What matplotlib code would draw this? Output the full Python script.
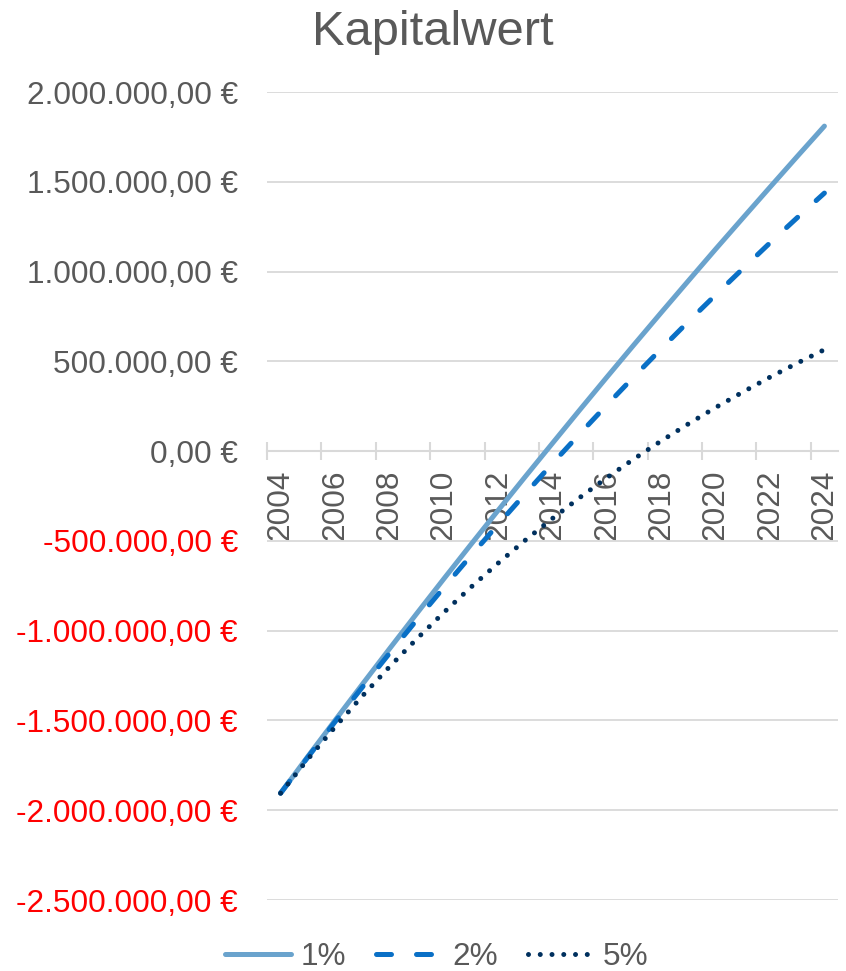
import matplotlib
matplotlib.use("Agg")
import matplotlib.pyplot as plt
from matplotlib.ticker import FixedLocator, FixedFormatter

plt.rcParams['font.family'] = ['Liberation Sans', 'DejaVu Sans']

# ---- data ----
years = list(range(2004, 2025))
npv_1 = [-1905000, -1701000, -1500000, -1300000, -1102000, -906000, -712000,
         -520000, -330000, -142000, 44000, 229000, 412000, 593000, 772000,
         949000, 1125000, 1298000, 1470000, 1641000, 1810000]
npv_2 = [-1905000, -1705000, -1508000, -1316000, -1127000, -942000, -760000,
         -582000, -408000, -237000, -69000, 96000, 257000, 415000, 570000,
         722000, 870000, 1016000, 1160000, 1300000, 1437000]
npv_5 = [-1905000, -1716000, -1537000, -1365000, -1202000, -1047000, -899000,
         -758000, -624000, -496000, -375000, -259000, -148000, -43000, 57000,
         152000, 243000, 329000, 412000, 490000, 565000]
series_names = ['1%', '2%', '5%']
y_ticks = [-2500000, -2000000, -1500000, -1000000, -500000, 0,
           500000, 1000000, 1500000, 2000000]
y_tick_labels = ['-2.500.000,00 €', '-2.000.000,00 €', '-1.500.000,00 €',
                 '-1.000.000,00 €', '-500.000,00 €', '0,00 €',
                 '500.000,00 €', '1.000.000,00 €', '1.500.000,00 €',
                 '2.000.000,00 €']
title = 'Kapitalwert'

# ---- styling ----
W, H = 846, 971
fig = plt.figure(figsize=(W / 100, H / 100), dpi=100)
ax = fig.add_axes([267 / W, 1 - 900 / H, (838 - 267) / W, (900 - 92) / H])

grey = '#595959'
gridc = '#d9d9d9'
fs = 22.7

x = list(range(len(years)))
l1, = ax.plot(x, npv_1, color='#6aa3cd', lw=3.6, solid_capstyle='round',
              label=series_names[0], zorder=3)
l2, = ax.plot(x, npv_2, color='#0a70c6', lw=3.6, dashes=(3.0, 5.0),
              dash_capstyle='round', label=series_names[1], zorder=3)
l3, = ax.plot(x, npv_5, color='#00305e', lw=3.6, dashes=(0.001, 2.35),
              dash_capstyle='round', label=series_names[2], zorder=3)

ax.set_xlim(-0.5, len(years) - 0.5)
ax.set_ylim(y_ticks[0], y_ticks[-1])

# y axis
ax.yaxis.set_major_locator(FixedLocator(y_ticks))
ax.yaxis.set_major_formatter(FixedFormatter(y_tick_labels))
ax.tick_params(axis='y', length=0, pad=21, labelsize=fs, labelcolor=grey)
for t, v in zip(ax.get_yticklabels(), y_ticks):
    t.set_color('#ff0000' if v < 0 else grey)
ax.yaxis.grid(True, color=gridc, lw=1.3)
ax.set_axisbelow(True)

# x axis at zero
ax.spines['bottom'].set_position(('data', 0))
ax.spines['bottom'].set_color(gridc)
ax.spines['bottom'].set_linewidth(1.5)
for s in ['left', 'right', 'top']:
    ax.spines[s].set_visible(False)
label_pos = [i for i in x if (years[i] - years[0]) % 2 == 0]
ax.xaxis.set_major_locator(FixedLocator(label_pos))
ax.xaxis.set_major_formatter(FixedFormatter([str(years[i]) for i in label_pos]))
ax.xaxis.set_minor_locator(FixedLocator([p - 0.5 for p in label_pos]))
ax.tick_params(axis='x', which='major', length=0, pad=13.5, labelsize=fs,
               labelcolor=grey, labelrotation=90)
ax.tick_params(axis='x', which='minor', direction='inout', length=13,
               width=1.5, color=gridc)
for t in ax.get_xticklabels():
    t.set_va('top')
    t.set_ha('center')

fig.text(433 / W, 1 - 45 / H, title, ha='center', va='baseline',
         fontsize=35.2, color=grey)

leg = fig.legend(handles=[l1, l2, l3], loc='center',
                 bbox_to_anchor=(437 / W, 1 - 957 / H), ncol=3, frameon=False,
                 fontsize=fs, handlelength=2.1, handletextpad=0.3,
                 columnspacing=0.95, borderpad=0, borderaxespad=0)
for t in leg.get_texts():
    t.set_color(grey)

fig.savefig('out.png', dpi=100)
